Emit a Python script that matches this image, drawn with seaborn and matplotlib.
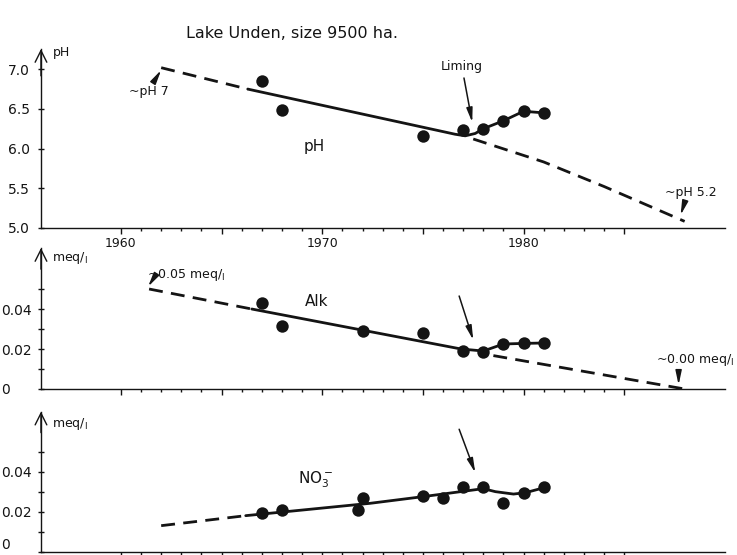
import matplotlib
matplotlib.use('Agg')
import matplotlib.pyplot as plt
from matplotlib.ticker import FixedLocator, NullFormatter, FixedFormatter
import seaborn as sns

# ---- data ----
# pH
ph_years = [1967, 1968, 1975, 1977, 1978, 1979, 1980, 1981]
ph_values = [6.85, 6.48, 6.16, 6.23, 6.25, 6.35, 6.47, 6.45]
ph_trend_early_x = [1962, 1966.3]
ph_trend_early_y = [7.02, 6.75]
ph_trend_x = [1966.3, 1976.6, 1977.1, 1977.6, 1978, 1979, 1980, 1981]
ph_trend_y = [6.75, 6.18, 6.16, 6.19, 6.25, 6.35, 6.47, 6.45]
ph_proj_x = [1977.5, 1981, 1984, 1988]
ph_proj_y = [6.12, 5.83, 5.52, 5.08]

# alkalinity (meq/l)
alk_years = [1967, 1968, 1972, 1975, 1977, 1978, 1979, 1980, 1981]
alk_values = [0.043, 0.0315, 0.029, 0.028, 0.019, 0.0185, 0.0225, 0.0228, 0.023]
alk_trend_early_x = [1961.4, 1966.5]
alk_trend_early_y = [0.050, 0.040]
alk_trend_x = [1966.5, 1976.9, 1978, 1979, 1980, 1981]
alk_trend_y = [0.040, 0.020, 0.019, 0.0225, 0.0228, 0.023]
alk_proj_x = [1978.5, 1988]
alk_proj_y = [0.0167, 0.0]

# nitrate (meq/l)
no3_years = [1967, 1968, 1971.8, 1972, 1975, 1976, 1977, 1978, 1979, 1980, 1981]
no3_values = [0.0192, 0.021, 0.021, 0.0268, 0.0279, 0.027, 0.0322, 0.0325, 0.0245, 0.0295, 0.0322]
no3_trend_early_x = [1962, 1966.2]
no3_trend_early_y = [0.013, 0.018]
no3_trend_x = [1966.2, 1972.4, 1975, 1978, 1978.6, 1979.5, 1980.1, 1981.1]
no3_trend_y = [0.018, 0.0242, 0.0275, 0.0315, 0.030, 0.0288, 0.0295, 0.0322]

ink = '#141414'
sns.set_theme(style='ticks')
plt.rcParams['font.family'] = ['DejaVu Sans']

fig = plt.figure(figsize=(7.37, 5.55), dpi=100)
ax_ph = fig.add_axes([0.0556, 0.5897, 0.928, 0.322])
ax_alk = fig.add_axes([0.0556, 0.2991, 0.928, 0.254])
ax_no3 = fig.add_axes([0.0556, 0.0060, 0.928, 0.2523])

dash = (0, (5, 3))


def trend(ax, x, y, dashed=False):
    sns.lineplot(x=x, y=y, ax=ax, color=ink, linewidth=2.0, sort=False,
                 estimator=None, linestyle=dash if dashed else '-')


def dots(ax, x, y):
    sns.scatterplot(x=x, y=y, ax=ax, color=ink, s=80, linewidth=0, zorder=4)


def frame(ax, top):
    sns.despine(ax=ax)
    for s in ['left', 'bottom']:
        ax.spines[s].set_linewidth(1.0)
        ax.spines[s].set_color(ink)
    ax.set_xlim(1956.03, 1990)
    ax.set_ylim(ax.get_ylim()[0], top)
    ax.xaxis.set_major_locator(FixedLocator([1960, 1965, 1970, 1975, 1980, 1985]))
    ax.xaxis.set_minor_locator(FixedLocator(list(range(1960, 1986))))
    ax.tick_params(axis='x', which='major', direction='out', length=4, width=1, color=ink)
    ax.tick_params(axis='x', which='minor', direction='out', length=2.5, width=1, color=ink)
    ax.tick_params(axis='y', which='both', direction='inout', length=4, width=1, color=ink)
    ax.annotate('', xy=(0, 1.0), xytext=(0, 0.85), xycoords='axes fraction',
                arrowprops=dict(arrowstyle='->,head_length=0.7,head_width=0.35',
                                lw=1.0, color=ink, shrinkA=0, shrinkB=0))
    ax.set_xlabel('')
    ax.set_ylabel('')
    ax.grid(False)


def arrow(ax, start, end):
    ax.annotate('', xy=end, xytext=start,
                arrowprops=dict(arrowstyle='-|>,head_length=0.7,head_width=0.15',
                                lw=1.1, color=ink, shrinkA=0, shrinkB=0))


# ---- pH panel ----
trend(ax_ph, ph_trend_early_x, ph_trend_early_y, dashed=True)
trend(ax_ph, ph_trend_x, ph_trend_y)
trend(ax_ph, ph_proj_x, ph_proj_y, dashed=True)
dots(ax_ph, ph_years, ph_values)
ax_ph.set_ylim(5.0, 7.256)
frame(ax_ph, 7.256)
ax_ph.set_yticks([5.0, 5.5, 6.0, 6.5, 7.0])
ax_ph.set_yticklabels(['5.0', '5.5', '6.0', '6.5', '7.0'])
ax_ph.xaxis.set_major_formatter(FixedFormatter(['1960', '', '1970', '', '1980', '']))
ax_ph.tick_params(axis='x', labelsize=9, pad=3, labelcolor=ink)
ax_ph.tick_params(axis='y', labelsize=10, pad=6, labelcolor=ink)
ax_ph.text(1956.6, 7.21, 'pH', fontsize=9, color=ink, va='center')
ax_ph.text(1961.4, 6.72, '~pH 7', fontsize=9, color=ink, ha='center', va='center')
arrow(ax_ph, (1961.75, 6.89), (1962.0, 6.99))
ax_ph.text(1976.95, 7.03, 'Liming', fontsize=9, color=ink, ha='center', va='center')
arrow(ax_ph, (1977.04, 6.89), (1977.45, 6.33))
ax_ph.text(1969.6, 6.02, 'pH', fontsize=11, color=ink, ha='center', va='center')
ax_ph.text(1988.3, 5.44, '~pH 5.2', fontsize=9, color=ink, ha='center', va='center')
arrow(ax_ph, (1988.0, 5.32), (1987.8, 5.16))

# ---- alkalinity panel ----
trend(ax_alk, alk_trend_early_x, alk_trend_early_y, dashed=True)
trend(ax_alk, alk_trend_x, alk_trend_y)
trend(ax_alk, alk_proj_x, alk_proj_y, dashed=True)
dots(ax_alk, alk_years, alk_values)
ax_alk.set_ylim(0, 0.0705)
frame(ax_alk, 0.0705)
ax_alk.xaxis.set_major_formatter(NullFormatter())
ax_alk.text(1956.6, 0.0655, r'meq/$_{\rm l}$', fontsize=9, color=ink, va='center')
ax_alk.text(1961.3, 0.057, r'~0.05 meq/$_{\rm l}$', fontsize=9, color=ink, va='center')
arrow(ax_alk, (1961.6, 0.055), (1961.35, 0.0512))
ax_alk.text(1969.7, 0.0437, 'Alk', fontsize=11, color=ink, ha='center', va='center')
arrow(ax_alk, (1976.8, 0.0465), (1977.5, 0.0245))
ax_alk.text(1986.6, 0.0145, r'~0.00 meq/$_{\rm l}$', fontsize=9, color=ink, va='center')
arrow(ax_alk, (1987.7, 0.0075), (1987.7, 0.002))

# ---- nitrate panel ----
trend(ax_no3, no3_trend_early_x, no3_trend_early_y, dashed=True)
trend(ax_no3, no3_trend_x, no3_trend_y)
dots(ax_no3, no3_years, no3_values)
ax_no3.set_ylim(0, 0.07)
frame(ax_no3, 0.07)
ax_no3.xaxis.set_major_formatter(NullFormatter())
ax_no3.text(1956.6, 0.0639, r'meq/$_{\rm l}$', fontsize=9, color=ink, va='center')
ax_no3.text(1969.7, 0.0358, r'NO$_3^-$', fontsize=11, color=ink, ha='center', va='center')
arrow(ax_no3, (1976.8, 0.0612), (1977.6, 0.0395))

for ax in (ax_alk, ax_no3):
    ax.yaxis.set_major_locator(FixedLocator([0, 0.02, 0.04]))
    ax.yaxis.set_minor_locator(FixedLocator([0.01, 0.03, 0.05]))
    ax.yaxis.set_major_formatter(FixedFormatter(['0', '0.02', '0.04']))
    ax.tick_params(axis='y', labelsize=10, pad=27, labelcolor=ink)
    for lab in ax.get_yticklabels():
        lab.set_horizontalalignment('left')

# the lowest "0" sits just above the bottom axis line so it stays on the canvas
ax_no3.get_yticklabels()[0].set_verticalalignment('bottom')

fig.text(0.396, 0.9405, 'Lake Unden, size 9500 ha.', fontsize=11.5, color=ink,
         ha='center', va='center')

fig.savefig('out.png', dpi=100)
